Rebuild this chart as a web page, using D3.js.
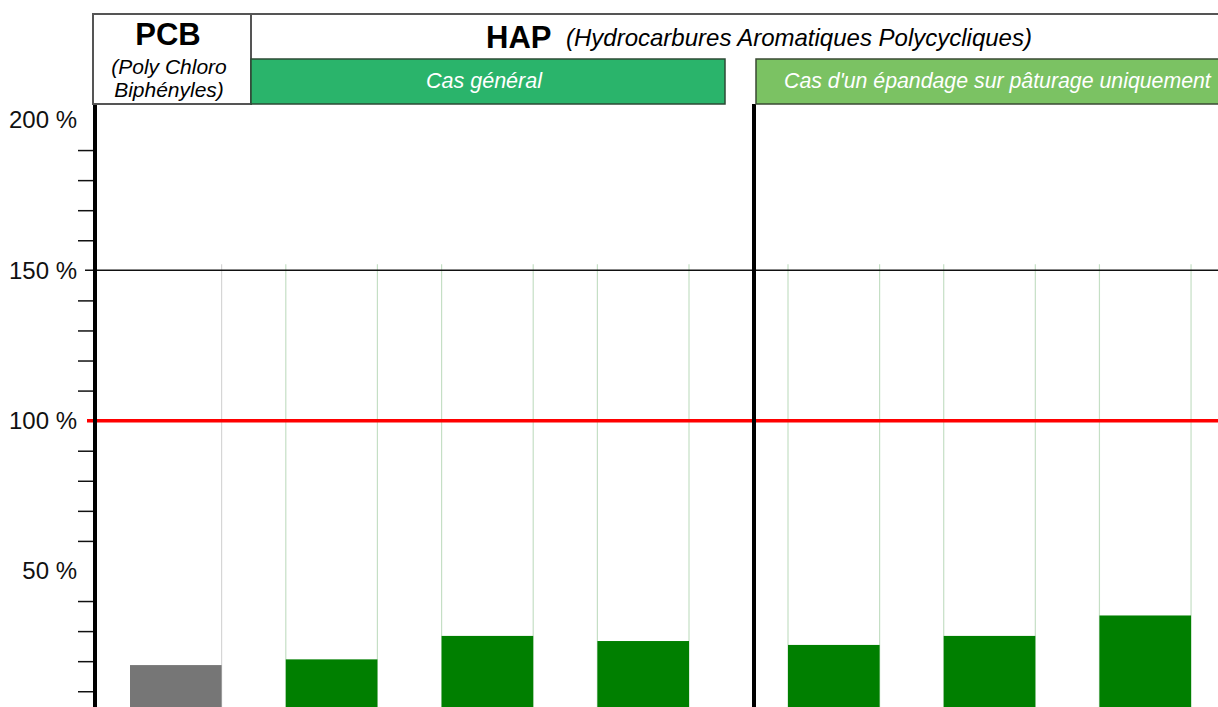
<!DOCTYPE html>
<html>
<head>
<meta charset="utf-8">
<script src="https://cdn.jsdelivr.net/npm/d3@7"></script>
<style>
  html, body { margin: 0; padding: 0; background: #fff; }
  svg { display: block; font-family: "Liberation Sans", Arial, sans-serif; }
</style>
</head>
<body>
<svg id="chart" width="1218" height="707"></svg>
<script>
// ---- data ----
const categories = ["PCB", "HAP général 1", "HAP général 2", "HAP général 3", "HAP pâturage 1", "HAP pâturage 2", "HAP pâturage 3"];
const groups     = ["pcb", "general", "general", "general", "pasture", "pasture", "pasture"];
const values     = [18.7, 20.6, 28.4, 26.7, 25.4, 28.4, 35.2];
const labelTicks = [50, 100, 150, 200];
const minorTicks = [10, 20, 30, 40, 60, 70, 80, 90, 110, 120, 130, 140, 160, 170, 180, 190];
const referenceLevel = 100;
const upperLevel = 150;

// ---- layout ----
const W = 1218, H = 707;
const svg = d3.select("#chart");
const axisX = 95, sepX = 754, plotTop = 104;

const y = d3.scaleLinear().domain([0, 200]).range([721.3, 120]);

const leftCats = categories.filter((c, i) => groups[i] !== "pasture");
const rightCats = categories.filter((c, i) => groups[i] === "pasture");
const xLeft = d3.scaleBand().domain(leftCats).range([130, 689]).paddingInner(0.412).paddingOuter(0);
const xRight = d3.scaleBand().domain(rightCats).range([788, 1191]).paddingInner(0.412).paddingOuter(0);
const xOf = c => rightCats.includes(c) ? xRight(c) : xLeft(c);
const bw = xLeft.bandwidth();

const data = categories.map((c, i) => ({ c, g: groups[i], v: values[i] }));

// grid lines at bar edges
data.forEach(d => {
  const x0 = xOf(d.c), x1 = x0 + bw;
  const col = d.g === "pcb" ? "#d6d6d6" : "#c5dfc5";
  const edges = d.g === "pcb" ? [x1] : [x0, x1];
  edges.forEach(ex => {
    svg.append("line").attr("x1", ex).attr("x2", ex)
      .attr("y1", y(152)).attr("y2", H)
      .attr("stroke", col).attr("stroke-width", 1.2);
  });
});

// bars
svg.selectAll("rect.bar").data(data).enter().append("rect")
  .attr("class", "bar")
  .attr("x", d => xOf(d.c))
  .attr("width", bw)
  .attr("y", d => y(d.v))
  .attr("height", d => y(0) - y(d.v))
  .attr("fill", d => d.g === "pcb" ? "#767676" : "#007f00");

// 150 % line
svg.append("line").attr("x1", 85).attr("x2", W)
  .attr("y1", y(upperLevel)).attr("y2", y(upperLevel))
  .attr("stroke", "#111").attr("stroke-width", 1.5);

// minor ticks
const minorAxis = d3.axisLeft(y).tickValues(minorTicks).tickSize(17).tickFormat("");
const gMinor = svg.append("g").attr("transform", `translate(${axisX},0)`).call(minorAxis);
gMinor.select(".domain").remove();
gMinor.selectAll("line").attr("stroke", "#111").attr("stroke-width", 1.5);

// labels
const labelAxis = d3.axisLeft(y).tickValues(labelTicks).tickSize(0).tickPadding(18).tickFormat(d => d + " %");
const gLab = svg.append("g").attr("transform", `translate(${axisX},0)`).call(labelAxis);
gLab.select(".domain").remove();
gLab.selectAll("text").attr("font-size", 24).attr("fill", "#111")
  .attr("font-family", "Liberation Sans, Arial, sans-serif");

// red reference line
svg.append("line").attr("x1", 87).attr("x2", W)
  .attr("y1", y(referenceLevel)).attr("y2", y(referenceLevel))
  .attr("stroke", "#ff0000").attr("stroke-width", 3.5);

// axis line and separator
svg.append("line").attr("x1", axisX).attr("x2", axisX).attr("y1", plotTop).attr("y2", H)
  .attr("stroke", "#000").attr("stroke-width", 4);
svg.append("line").attr("x1", sepX).attr("x2", sepX).attr("y1", plotTop).attr("y2", H)
  .attr("stroke", "#000").attr("stroke-width", 4);

// ---- header ----
svg.append("path").attr("d", `M${W + 5},14 H251 V104`)
  .attr("fill", "none").attr("stroke", "#555").attr("stroke-width", 2);
svg.append("rect").attr("x", 93).attr("y", 14).attr("width", 158).attr("height", 90)
  .attr("fill", "#fff").attr("stroke", "#555").attr("stroke-width", 2);

svg.append("text").attr("x", 168).attr("y", 45).attr("text-anchor", "middle")
  .attr("font-size", 31).attr("font-weight", "bold").attr("fill", "#000").text("PCB");
svg.append("text").attr("x", 169).attr("y", 74).attr("text-anchor", "middle")
  .attr("font-size", 21).attr("font-style", "italic").attr("fill", "#000").text("(Poly Chloro");
svg.append("text").attr("x", 169).attr("y", 97).attr("text-anchor", "middle")
  .attr("font-size", 21).attr("font-style", "italic").attr("fill", "#000").text("Biphényles)");

svg.append("text").attr("x", 486).attr("y", 48)
  .attr("font-size", 31).attr("font-weight", "bold").attr("fill", "#000").text("HAP");
svg.append("text").attr("x", 566).attr("y", 46)
  .attr("font-size", 24).attr("font-style", "italic").attr("fill", "#000")
  .text("(Hydrocarbures Aromatiques Polycycliques)");

svg.append("rect").attr("x", 251).attr("y", 59).attr("width", 474).attr("height", 45)
  .attr("fill", "#2ab46b").attr("stroke", "#2d4a35").attr("stroke-width", 1.5);
svg.append("text").attr("x", 484).attr("y", 88).attr("text-anchor", "middle")
  .attr("font-size", 21.5).attr("font-style", "italic").attr("fill", "#fff").text("Cas général");

svg.append("rect").attr("x", 756).attr("y", 59).attr("width", 480).attr("height", 45)
  .attr("fill", "#7bc263").attr("stroke", "#3a4a33").attr("stroke-width", 1.5);
svg.append("text").attr("x", 784).attr("y", 88)
  .attr("font-size", 21.3).attr("font-style", "italic").attr("fill", "#fff")
  .text("Cas d'un épandage sur pâturage uniquement");
</script>
</body>
</html>
